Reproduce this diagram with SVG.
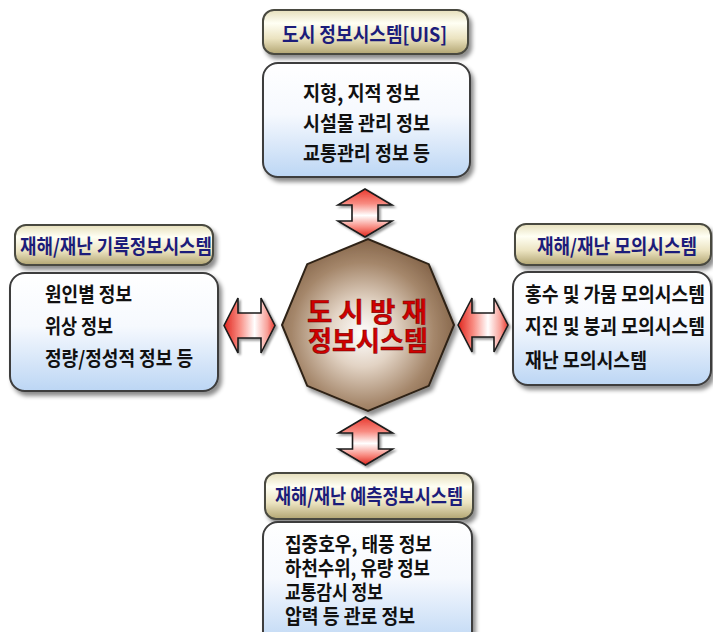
<svg xmlns="http://www.w3.org/2000/svg" width="713" height="632" viewBox="0 0 713 632">
<defs>
<linearGradient id="gTitle" x1="0" y1="0" x2="0" y2="1">
<stop offset="0" stop-color="#e6dfbb"/>
<stop offset="0.3" stop-color="#fffff4"/>
<stop offset="0.65" stop-color="#ebe3c0"/>
<stop offset="1" stop-color="#b2a572"/>
</linearGradient>
<linearGradient id="gBox" x1="0" y1="0" x2="0" y2="1">
<stop offset="0" stop-color="#ffffff"/>
<stop offset="0.45" stop-color="#f6f9fe"/>
<stop offset="1" stop-color="#bcd6f4"/>
</linearGradient>
<linearGradient id="gArrH" x1="0" y1="0" x2="1" y2="0">
<stop offset="0" stop-color="#e0261e"/>
<stop offset="0.3" stop-color="#f88a80"/>
<stop offset="0.6" stop-color="#ffffff"/>
<stop offset="0.85" stop-color="#f8a098"/>
<stop offset="1" stop-color="#e83a30"/>
</linearGradient>
<linearGradient id="gArrV" x1="0" y1="0" x2="0" y2="1">
<stop offset="0" stop-color="#e83a30"/>
<stop offset="0.3" stop-color="#f88a80"/>
<stop offset="0.55" stop-color="#ffffff"/>
<stop offset="0.8" stop-color="#f88a80"/>
<stop offset="1" stop-color="#e0261e"/>
</linearGradient>
<radialGradient id="gOct" cx="0.47" cy="0.55" r="0.55">
<stop offset="0" stop-color="#ffffff"/>
<stop offset="0.35" stop-color="#e2d3c4"/>
<stop offset="0.75" stop-color="#a5876b"/>
<stop offset="1" stop-color="#85654a"/>
</radialGradient>
<filter id="sh" x="-10%" y="-10%" width="130%" height="140%">
<feDropShadow dx="3" dy="4" stdDeviation="2" flood-color="#000" flood-opacity="0.45"/>
</filter>
<filter id="shs" x="-10%" y="-10%" width="130%" height="130%">
<feDropShadow dx="2" dy="2" stdDeviation="1.2" flood-color="#000" flood-opacity="0.4"/>
</filter>
</defs>
<style>
.title{fill:url(#gTitle);stroke:#4a4a40;stroke-width:2;filter:url(#sh)}
.box{fill:url(#gBox);stroke:#3c3c3c;stroke-width:2;filter:url(#sh)}
.tt{font-family:"Noto Sans CJK KR","Noto Sans",sans-serif;font-weight:bold;font-size:17px;fill:#1c1c7a}
.ct{font-family:"Noto Sans CJK KR","Noto Sans",sans-serif;font-weight:bold;font-size:17px;fill:#111}
.cen{font-family:"Noto Sans CJK KR","Noto Sans",sans-serif;font-weight:bold;font-size:23px;fill:#d00000;stroke:#600;stroke-width:0.4}
.arrH{fill:url(#gArrH);stroke:#1a1a1a;stroke-width:1.6;stroke-linejoin:miter;filter:url(#shs)}
.arrV{fill:url(#gArrV);stroke:#1a1a1a;stroke-width:1.6;stroke-linejoin:miter;filter:url(#shs)}
</style>

<g id="connectors">
<path class="arrV" d="M365,189 L392,205 L378,205 L378,221 L392,221 L365,237 L338,221 L352,221 L352,205 L338,205 Z"/>
<path class="arrV" d="M365.5,417 L392.5,433 L378.5,433 L378.5,449 L392.5,449 L365.5,465 L338.5,449 L352.5,449 L352.5,433 L338.5,433 Z"/>
<path class="arrH" d="M224,325.5 L238,298 L238,313 L261,313 L261,298 L275,325.5 L261,353 L261,338 L238,338 L238,353 Z"/>
<path class="arrH" d="M458,325 L472,298 L472,313 L494,313 L494,298 L508,325 L494,352 L494,337 L472,337 L472,352 Z"/>
</g>

<g id="center">
<polygon points="454,325 428.8,264.2 368,239 307.2,264.2 282,325 307.2,385.8 368,411 428.8,385.8" fill="url(#gOct)" stroke="#2e2216" stroke-width="2" filter="url(#sh)"/>
<text class="cen" transform="translate(307 322) scale(1 1.18)" textLength="120" lengthAdjust="spacingAndGlyphs">도 시 방 재</text>
<text class="cen" transform="translate(308 351) scale(1 1.18)" textLength="120" lengthAdjust="spacingAndGlyphs">정보시스템</text>
</g>

<g id="uis">
<rect class="title" x="263" y="10" width="205" height="44" rx="11"/>
<text class="tt" transform="translate(282 42) scale(1 1.18)" textLength="165" lengthAdjust="spacingAndGlyphs">도시 정보시스템[UIS]</text>
<rect class="box" x="263" y="63" width="207" height="114" rx="15"/>
<text class="ct" transform="translate(303 101) scale(1 1.18)" textLength="117" lengthAdjust="spacingAndGlyphs">지형, 지적 정보</text>
<text class="ct" transform="translate(303 131) scale(1 1.18)" textLength="127" lengthAdjust="spacingAndGlyphs">시설물 관리 정보</text>
<text class="ct" transform="translate(303 161) scale(1 1.18)" textLength="127" lengthAdjust="spacingAndGlyphs">교통관리 정보 등</text>
</g>

<g id="record">
<rect class="title" x="15" y="225" width="198" height="40" rx="11"/>
<text class="tt" transform="translate(20 254) scale(1 1.18)" textLength="192" lengthAdjust="spacingAndGlyphs">재해/재난 기록정보시스템</text>
<rect class="box" x="10" y="273" width="208" height="118" rx="15"/>
<text class="ct" transform="translate(45 302) scale(1 1.18)" textLength="87" lengthAdjust="spacingAndGlyphs">원인별 정보</text>
<text class="ct" transform="translate(45 334) scale(1 1.18)" textLength="68" lengthAdjust="spacingAndGlyphs">위상 정보</text>
<text class="ct" transform="translate(45 366) scale(1 1.18)" textLength="148" lengthAdjust="spacingAndGlyphs">정량/정성적 정보 등</text>
</g>

<g id="simulation">
<rect class="title" x="515" y="224" width="196" height="41" rx="11"/>
<text class="tt" transform="translate(537 254) scale(1 1.18)" textLength="160" lengthAdjust="spacingAndGlyphs">재해/재난 모의시스템</text>
<rect class="box" x="513" y="272" width="198" height="113" rx="15"/>
<text class="ct" transform="translate(525 302) scale(1 1.18)" textLength="180" lengthAdjust="spacingAndGlyphs">홍수 및 가뭄 모의시스템</text>
<text class="ct" transform="translate(525 334) scale(1 1.18)" textLength="180" lengthAdjust="spacingAndGlyphs">지진 및 붕괴 모의시스템</text>
<text class="ct" transform="translate(525 368) scale(1 1.18)" textLength="122" lengthAdjust="spacingAndGlyphs">재난 모의시스템</text>
</g>

<g id="prediction">
<rect class="title" x="265" y="473" width="208" height="46" rx="11"/>
<text class="tt" transform="translate(275 504) scale(1 1.18)" textLength="188" lengthAdjust="spacingAndGlyphs">재해/재난 예측정보시스템</text>
<rect class="box" x="263" y="522" width="209" height="125" rx="15"/>
<text class="ct" transform="translate(285 552) scale(1 1.18)" textLength="147" lengthAdjust="spacingAndGlyphs">집중호우, 태풍 정보</text>
<text class="ct" transform="translate(285 576) scale(1 1.18)" textLength="145" lengthAdjust="spacingAndGlyphs">하천수위, 유량 정보</text>
<text class="ct" transform="translate(285 600) scale(1 1.18)" textLength="98" lengthAdjust="spacingAndGlyphs">교통감시 정보</text>
<text class="ct" transform="translate(285 624) scale(1 1.18)" textLength="130" lengthAdjust="spacingAndGlyphs">압력 등 관로 정보</text>
</g>
</svg>
